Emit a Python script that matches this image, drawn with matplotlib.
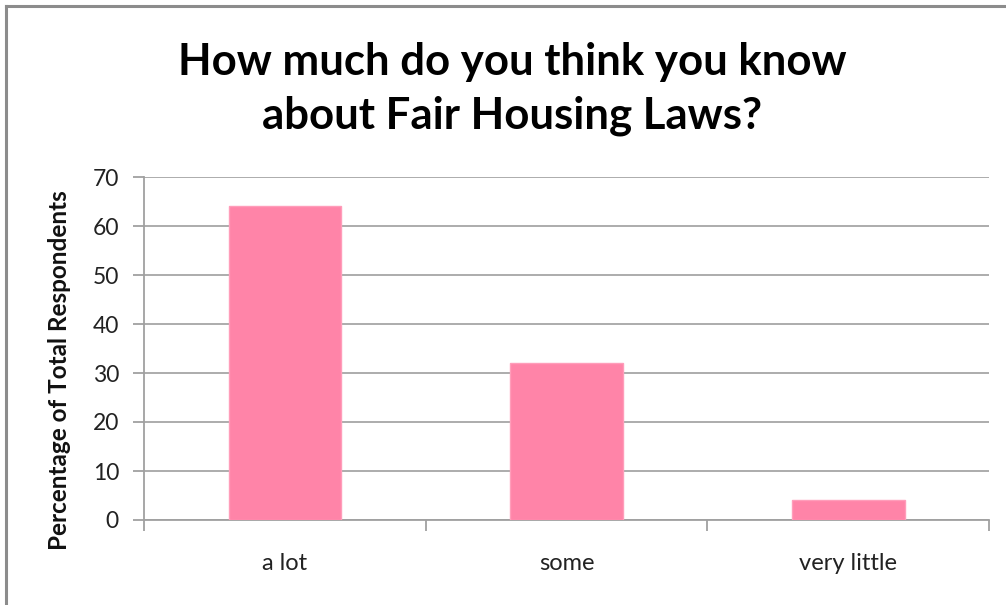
import matplotlib.pyplot as plt
import numpy as np
from matplotlib.lines import Line2D

plt.rcParams['font.family'] = ['Lato', 'DejaVu Sans']

categories = ['a lot', 'some', 'very little']
percentages = [64, 32, 4]
y_ticks = [0, 10, 20, 30, 40, 50, 60, 70]

fig = plt.figure(figsize=(10.06, 6.05), dpi=100)
ax = fig.add_axes([144 / 1006, 1 - 520 / 605, (989 - 144) / 1006, (520 - 177) / 605])

x = np.arange(len(categories))
ax.bar(x, percentages, width=0.4, color='#FF84A8', edgecolor='#FF9DBA', linewidth=1, zorder=3)

ax.set_xlim(-0.5, len(categories) - 0.5)
ax.set_ylim(0, 70)
ax.set_yticks(y_ticks)
ax.set_yticklabels([str(t) for t in y_ticks], fontsize=16.5, color='#222222')
ax.yaxis.grid(True, color='#A6A6A6', linewidth=1.3, zorder=0)

# category ticks sit on the boundaries, labels in the middle
ax.set_xticks(np.arange(len(categories) + 1) - 0.5)
ax.set_xticklabels([])
ax.set_xticks(x, minor=True)
ax.set_xticklabels(categories, minor=True, fontsize=17, color='#222222')
ax.tick_params(axis='x', which='minor', length=0, pad=24)
ax.tick_params(axis='x', which='major', length=8, width=1.3, color='#A0A0A0', direction='out')
ax.tick_params(axis='y', length=8, width=1.3, color='#A0A0A0', direction='out', pad=10)

for side in ['top', 'right']:
    ax.spines[side].set_visible(False)
for side in ['left', 'bottom']:
    ax.spines[side].set_color('#A0A0A0')
    ax.spines[side].set_linewidth(1.3)

fig.text(60 / 1006, 1 - 370 / 605, 'Percentage of Total Respondents', rotation=90,
         ha='center', va='center', fontsize=17.5, fontweight='bold', color='#111111')

fig.text(512 / 1006, 1 - 89 / 605, 'How much do you think you know\nabout Fair Housing Laws?',
         ha='center', va='center', fontsize=31.5, fontweight='bold', color='#000000',
         linespacing=1.42)

# chart area border (top and left edges)
fig.add_artist(Line2D([6 / 1006, 1.0], [1 - 6 / 605, 1 - 6 / 605], transform=fig.transFigure,
                      color='#8C8C8C', linewidth=2.2))
fig.add_artist(Line2D([6 / 1006, 6 / 1006], [0.0, 1 - 6 / 605], transform=fig.transFigure,
                      color='#8C8C8C', linewidth=2.2))

fig.savefig('out.png', dpi=100)
